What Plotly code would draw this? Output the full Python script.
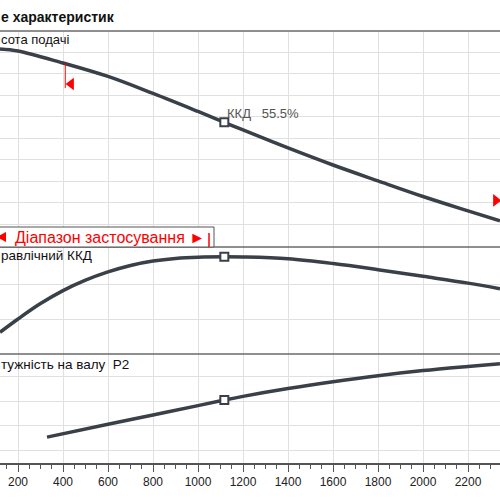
import plotly.graph_objects as go

# ---- data (flow Q) ----
q_head = [120, 200, 400, 600, 800, 1000, 1117, 1200, 1400, 1600, 1800, 2000, 2200, 2342]
head = [18.33, 18.14, 17.02, 15.77, 14.19, 12.51, 11.50, 10.79, 9.12, 7.53, 6.05, 4.60, 3.26, 2.33]

q_eta = [120, 200, 300, 400, 500, 600, 700, 800, 900, 1000, 1117, 1200, 1400, 1600, 1800, 2000, 2200, 2342]
eta = [12.4, 20.0, 28.8, 36.2, 42.2, 46.9, 50.6, 53.1, 54.6, 55.3, 55.5, 55.4, 54.4, 51.7, 48.2, 44.4, 40.5, 37.3]

q_pow = [329, 600, 800, 1000, 1117, 1200, 1400, 1600, 1800, 2000, 2200, 2342]
power = [15.3, 20.6, 24.4, 28.2, 30.5, 32.0, 35.2, 38.0, 40.5, 42.6, 44.3, 45.4]

duty_q = [1117]
duty_head = [11.50]
duty_eta = [55.5]
duty_power = [30.5]

range_min_q = 410
range_min_head = [17.02, 14.70]
range_min_arrow = [436, 15.07]
range_max_arrow = [2324, 4.23]

x_ticks = list(range(200, 2600, 200))

W = 500
def py(p):
    return 1 - p / W

CURVE = "#3a4048"
GRID = "#e0e0e0"
FONT = "Liberation Sans"

fig = go.Figure()
line = dict(color=CURVE, width=3.5, shape="spline", smoothing=1)
fig.add_trace(go.Scatter(x=q_head, y=head, mode="lines", line=line, xaxis="x", yaxis="y", hoverinfo="skip"))
fig.add_trace(go.Scatter(x=q_eta, y=eta, mode="lines", line=line, xaxis="x2", yaxis="y2", hoverinfo="skip"))
fig.add_trace(go.Scatter(x=q_pow, y=power, mode="lines", line=line, xaxis="x3", yaxis="y3", hoverinfo="skip"))

mk = dict(symbol="square", size=8, color="white", line=dict(color=CURVE, width=2))
fig.add_trace(go.Scatter(x=duty_q, y=duty_head, mode="markers", marker=mk, xaxis="x", yaxis="y"))
fig.add_trace(go.Scatter(x=duty_q, y=duty_eta, mode="markers", marker=mk, xaxis="x2", yaxis="y2"))
fig.add_trace(go.Scatter(x=duty_q, y=duty_power, mode="markers", marker=mk, xaxis="x3", yaxis="y3"))

# range limits (red)
fig.add_trace(go.Scatter(x=[range_min_q, range_min_q], y=range_min_head, mode="lines",
                         line=dict(color="red", width=1), xaxis="x", yaxis="y"))
fig.add_trace(go.Scatter(x=[range_min_arrow[0]], y=[range_min_arrow[1]], mode="markers",
                         marker=dict(symbol="triangle-left", size=11, color="red"), xaxis="x", yaxis="y"))
fig.add_trace(go.Scatter(x=[range_max_arrow[0]], y=[range_max_arrow[1]], mode="markers",
                         marker=dict(symbol="triangle-right", size=11, color="red"), xaxis="x", yaxis="y"))

xr = [120, 120 + W / 0.225]
xgrid = dict(range=xr, showgrid=True, gridcolor=GRID, gridwidth=1, tickvals=x_ticks,
             zeroline=False, domain=[0, 1])

layout = dict(
    width=500, height=500, margin=dict(l=0, r=0, t=0, b=0),
    paper_bgcolor="white", plot_bgcolor="white", showlegend=False,
    xaxis=dict(**xgrid, anchor="y", showticklabels=False, matches="x3"),
    xaxis2=dict(**xgrid, anchor="y2", showticklabels=False, matches="x3"),
    xaxis3=dict(**xgrid, anchor="y3", showticklabels=True, ticks="outside", ticklen=7,
                tickcolor="#555", showline=True, linecolor="#555", linewidth=1.5,
                ticklabeloverflow="allow",
                tickfont=dict(family=FONT, size=12, color="#222"),
                minor=dict(dtick=50, tick0=0, ticks="outside", ticklen=4, tickcolor="#555", showgrid=False)),
    yaxis=dict(domain=[py(247), py(31)], range=[-0.1, 20], tickvals=list(range(2, 20, 2)),
               showticklabels=False, showgrid=True, gridcolor=GRID, zeroline=False, anchor="x"),
    yaxis2=dict(domain=[py(354), py(247)], range=[0, 61.14], tickvals=[20, 40],
                showticklabels=False, showgrid=True, gridcolor=GRID, zeroline=False, anchor="x2"),
    yaxis3=dict(domain=[py(463), py(354)], range=[4.67, 49.4], tickvals=[10, 20, 30, 40],
                showticklabels=False, showgrid=True, gridcolor=GRID, zeroline=False, anchor="x3"),
)
fig.update_layout(**layout)

# panel borders
for yy in [31, 247, 354]:
    fig.add_shape(type="line", xref="paper", yref="paper", x0=0, x1=1, y0=py(yy), y1=py(yy),
                  line=dict(color="#6a6a6a", width=1.5))

# application range box
fig.add_shape(type="rect", xref="paper", yref="paper", x0=-0.05, x1=214 / W, y0=py(247), y1=py(227),
              line=dict(color="#555", width=1), fillcolor="white")
fig.add_shape(type="line", xref="paper", yref="paper", x0=209 / W, x1=209 / W, y0=py(247), y1=py(233),
              line=dict(color="red", width=1.5))
fig.add_shape(type="path", xref="paper", yref="paper",
              path=f"M {-3/W} {py(237)} L {6/W} {py(232)} L {6/W} {py(242)} Z",
              line=dict(width=0), fillcolor="red")

def ann(text, x_px, y_px, size=13, color="#111", anchor="left", bold=False):
    fig.add_annotation(text=f"<b>{text}</b>" if bold else text, xref="paper", yref="paper",
                       x=x_px / W, y=py(y_px), xanchor=anchor, yanchor="middle",
                       showarrow=False, font=dict(family=FONT, size=size, color=color))

ann("е характеристик", -1, 17, size=14, bold=True)
ann("сота подачі", -1, 40)
ann("равлічний ККД", -1, 255, size=13.5)
ann("тужність на валу  P2", -1, 364, size=13.5)
ann("ККД   55.5%", 225, 114, color="#555")
ann("Діапазон застосування ►", 207, 237, size=16, color="red", anchor="right")

fig.write_html("out.html", config={"displayModeBar": False},
               post_script="document.body.style.margin='0';document.body.style.overflow='hidden';")
